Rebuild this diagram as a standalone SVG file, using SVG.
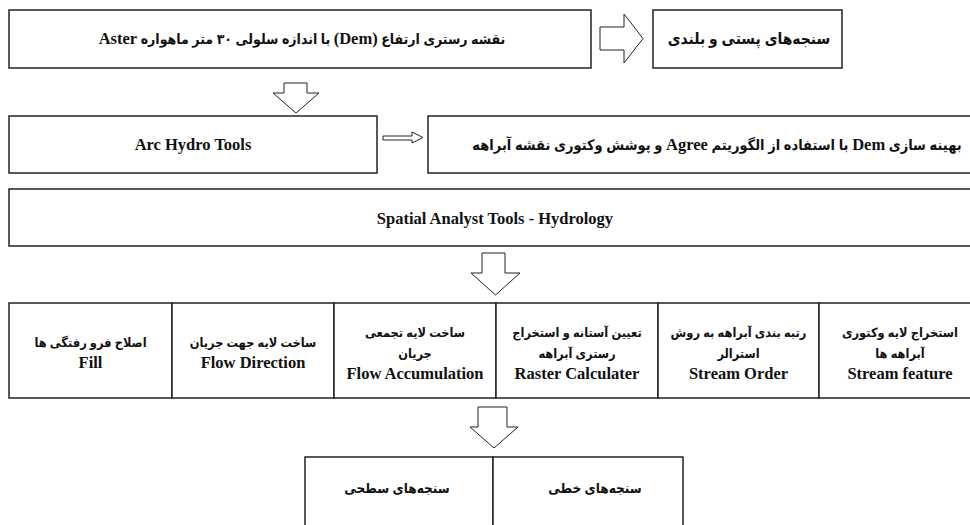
<svg xmlns="http://www.w3.org/2000/svg" width="970" height="525" viewBox="0 0 970 525">
<style>
.box{fill:#fff;stroke:#222;stroke-width:1.5}
.arr{fill:#fff;stroke:#222;stroke-width:1;stroke-linejoin:miter}
text{font-family:"Liberation Serif","DejaVu Sans Condensed","DejaVu Sans",serif;font-weight:bold;fill:#111;text-anchor:middle}
.en{font-size:16.5px}
.fa{font-size:14px;direction:rtl}
.fc{font-size:12.7px;direction:rtl}
.e{font-size:16.5px}
</style>
<rect width="970" height="525" fill="#fff"/>
<g id="n-dem"><rect class="box" x="9" y="10" width="582" height="58"/><text class="fa" x="302" y="44">نقشه رستری ارتفاع <tspan class="e">(Dem)</tspan> با اندازه سلولی ۳۰ متر ماهواره <tspan class="e">Aster</tspan></text></g>
<g id="n-relief"><rect class="box" x="653" y="10" width="189" height="58"/><text class="fa" x="749" y="44" style="font-size:15.5px">سنجه‌های پستی و بلندی</text></g>
<g id="n-archydro"><rect class="box" x="9" y="116" width="368" height="57"/><text class="en" x="193" y="150">Arc Hydro Tools</text></g>
<g id="n-agree"><rect class="box" x="428" y="116" width="578" height="57"/><text class="fa" x="717" y="150" style="font-size:14.5px">بهینه سازی <tspan class="e">Dem</tspan> با استفاده از الگوریتم <tspan class="e">Agree</tspan> و پوشش وکتوری نقشه آبراهه</text></g>
<g id="n-spatial"><rect class="box" x="9" y="189" width="972" height="57"/><text class="en" x="495" y="224">Spatial Analyst Tools - Hydrology</text></g>
<g id="n-fill"><rect class="box" x="9" y="303" width="163" height="95"/><text class="fc" x="90.5" y="347">اصلاح فرو رفتگی ها</text><text class="en" x="90.5" y="368">Fill</text></g>
<g id="n-flowdir"><rect class="box" x="172" y="303" width="162" height="95"/><text class="fc" x="253" y="347">ساخت لایه جهت جریان</text><text class="en" x="253" y="368">Flow Direction</text></g>
<g id="n-flowacc"><rect class="box" x="334" y="303" width="162" height="95"/><text class="fc" x="415" y="337">ساخت لایه تجمعی</text><text class="fc" x="415" y="358">جریان</text><text class="en" x="415" y="379">Flow Accumulation</text></g>
<g id="n-raster"><rect class="box" x="496" y="303" width="162" height="95"/><text class="fc" x="577" y="337">تعیین آستانه و استخراج</text><text class="fc" x="577" y="358">رستری آبراهه</text><text class="en" x="577" y="379">Raster Calculater</text></g>
<g id="n-order"><rect class="box" x="658" y="303" width="161" height="95"/><text class="fc" x="738.5" y="337">رتبه بندی آبراهه به روش</text><text class="fc" x="738.5" y="358">استرالر</text><text class="en" x="738.5" y="379">Stream Order</text></g>
<g id="n-feature"><rect class="box" x="819" y="303" width="162" height="95"/><text class="fc" x="900" y="337">استخراج لایه وکتوری</text><text class="fc" x="900" y="358">آبراهه ها</text><text class="en" x="900" y="379">Stream feature</text></g>
<g id="n-surface"><rect class="box" x="305" y="457" width="188" height="90"/><text class="fa" x="397" y="493" style="font-size:13.5px">سنجه‌های سطحی</text></g>
<g id="n-linear"><rect class="box" x="493" y="457" width="190" height="90"/><text class="fa" x="595" y="493" style="font-size:13.5px">سنجه‌های خطی</text></g>
<g id="connectors">
<polygon class="arr" points="600,27 624,27 624,14 643,38.5 624,63 624,50 600,50"/>
<polygon class="arr" points="284,83 307,83 307,93 319,93 296,113 273,93 284,93"/>
<polygon class="arr" points="383,136 412,136 412,132 423,137.5 412,143 412,140 383,140"/>
<polygon class="arr" points="482,253 505,253 505,273 520,273 495.5,295 471,273 482,273"/>
<polygon class="arr" points="478,407 507,407 507,427 518,427 494,448 470,427 478,427"/>
</g>
</svg>
